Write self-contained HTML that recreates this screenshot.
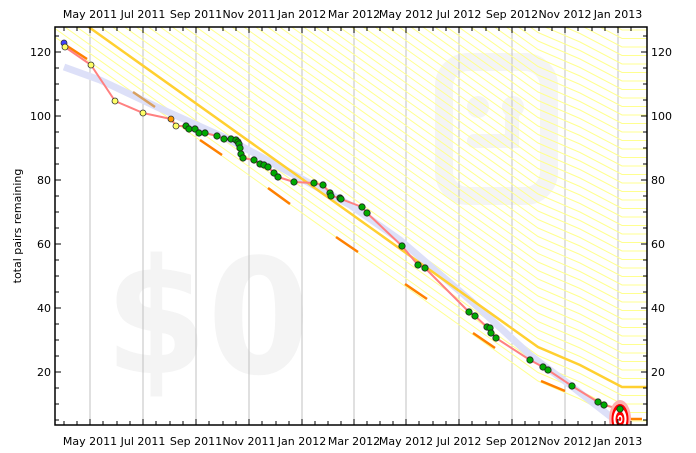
<!DOCTYPE html>
<html><head><meta charset="utf-8"><style>
html,body{margin:0;padding:0;background:#fff;}
svg{display:block;font-family:"DejaVu Sans","Liberation Sans",sans-serif;}
</style></head><body>
<svg width="696" height="453" viewBox="0 0 696 453" xmlns="http://www.w3.org/2000/svg">
<defs>
<clipPath id="pc"><rect x="55" y="27" width="592" height="398"/></clipPath>
<polyline id="lane" points="-100,-107 55,3 538,347 580,365 622,387 700,387" fill="none"/>
</defs>
<rect x="0" y="0" width="696" height="453" fill="#fff"/>
<g clip-path="url(#pc)">
<text x="105" y="373" font-size="160" font-weight="bold" fill="#f4f4f4" textLength="205" lengthAdjust="spacingAndGlyphs" font-family="DejaVu Sans,sans-serif">$0</text>
<rect x="444" y="62" width="105" height="134" rx="24" fill="none" stroke="#f4f4f4" stroke-width="18"/>
<circle cx="478" cy="107" r="11" fill="#f4f4f4"/>
<circle cx="513" cy="107" r="11" fill="#f4f4f4"/>
<path d="M474,141 L512,141 L512,118" fill="none" stroke="#f4f4f4" stroke-width="14" stroke-linecap="round"/>
<g stroke="#c0c0c0" stroke-width="1">
<line x1="90" y1="27" x2="90" y2="425"/><line x1="143" y1="27" x2="143" y2="425"/>
<line x1="196" y1="27" x2="196" y2="425"/><line x1="249" y1="27" x2="249" y2="425"/>
<line x1="302" y1="27" x2="302" y2="425"/><line x1="354" y1="27" x2="354" y2="425"/>
<line x1="406" y1="27" x2="406" y2="425"/><line x1="459" y1="27" x2="459" y2="425"/>
<line x1="512" y1="27" x2="512" y2="425"/><line x1="565" y1="27" x2="565" y2="425"/>
<line x1="618" y1="27" x2="618" y2="425"/>
</g>
<g stroke="#ffff90" stroke-width="1">
<use href="#lane" transform="translate(0,34)"/><use href="#lane" transform="translate(0,25.5)"/>
<use href="#lane" transform="translate(0,17)"/><use href="#lane" transform="translate(0,8.5)"/>
<use href="#lane" transform="translate(0,-8.5)"/><use href="#lane" transform="translate(0,-17)"/>
<use href="#lane" transform="translate(0,-25.5)"/><use href="#lane" transform="translate(0,-34)"/>
<use href="#lane" transform="translate(0,-42.5)"/><use href="#lane" transform="translate(0,-51)"/>
<use href="#lane" transform="translate(0,-59.5)"/><use href="#lane" transform="translate(0,-68)"/>
<use href="#lane" transform="translate(0,-76.5)"/><use href="#lane" transform="translate(0,-85)"/>
<use href="#lane" transform="translate(0,-93.5)"/><use href="#lane" transform="translate(0,-102)"/>
<use href="#lane" transform="translate(0,-110.5)"/><use href="#lane" transform="translate(0,-119)"/>
<use href="#lane" transform="translate(0,-127.5)"/><use href="#lane" transform="translate(0,-136)"/>
<use href="#lane" transform="translate(0,-144.5)"/><use href="#lane" transform="translate(0,-153)"/>
<use href="#lane" transform="translate(0,-161.5)"/><use href="#lane" transform="translate(0,-170)"/>
<use href="#lane" transform="translate(0,-178.5)"/><use href="#lane" transform="translate(0,-187)"/>
<use href="#lane" transform="translate(0,-195.5)"/><use href="#lane" transform="translate(0,-204)"/>
<use href="#lane" transform="translate(0,-212.5)"/><use href="#lane" transform="translate(0,-221)"/>
<use href="#lane" transform="translate(0,-229.5)"/><use href="#lane" transform="translate(0,-238)"/>
<use href="#lane" transform="translate(0,-246.5)"/><use href="#lane" transform="translate(0,-255)"/>
<use href="#lane" transform="translate(0,-263.5)"/><use href="#lane" transform="translate(0,-272)"/>
<use href="#lane" transform="translate(0,-280.5)"/><use href="#lane" transform="translate(0,-289)"/>
<use href="#lane" transform="translate(0,-297.5)"/><use href="#lane" transform="translate(0,-306)"/>
<use href="#lane" transform="translate(0,-314.5)"/><use href="#lane" transform="translate(0,-323)"/>
<use href="#lane" transform="translate(0,-331.5)"/><use href="#lane" transform="translate(0,-340)"/>
<use href="#lane" transform="translate(0,-348.5)"/><use href="#lane" transform="translate(0,-357)"/>
</g>
<polyline points="64,67 100,80 157,107 230,140 300,178 350,205 400,240 470,300 530,355 570,385 615,420" fill="none" stroke="#dde0f8" stroke-width="7" stroke-linejoin="round"/>
<use href="#lane" stroke="#ffd030" stroke-width="2.5"/>
<g stroke="#ff8000" stroke-width="2.5">
<line x1="64" y1="44" x2="87" y2="59"/>
<line x1="133" y1="92" x2="155" y2="107" stroke="#d8a060"/>
<line x1="200" y1="140" x2="222" y2="155"/>
<line x1="268" y1="188" x2="290" y2="204"/>
<line x1="336" y1="237" x2="358" y2="252"/>
<line x1="405" y1="284" x2="427" y2="299"/>
<line x1="473" y1="333" x2="495" y2="348"/>
<line x1="541" y1="381" x2="565" y2="391"/>
<line x1="628" y1="419" x2="642" y2="419"/>
</g>
<polyline points="64,43 65,47 91,65 115,101 143,113 171,119 176,126 186,126 189,129 195,129 199,133 205,133 217,136 224,139 231,139 236,140 238,142 239,144 240,148 241,154 243,158 254,160 260,164 264,165 268,167 274,173 278,177 294,182 314,183 323,185 330,193 331,196 340,198 341,199 362,207 367,213 402,246 418,265 425,268 469,312 475,316 487,327 490,328 491,333 496,338 530,360 543,367 548,370 572,386 598,402 604,405 620,409" fill="none" stroke="#ff8080" stroke-width="2" stroke-linejoin="round"/>
<ellipse cx="620" cy="419" rx="11" ry="19" fill="#ffb0b0"/>
<ellipse cx="620" cy="419" rx="8.5" ry="15" fill="#ff0000"/>
<ellipse cx="620" cy="419" rx="6.5" ry="11" fill="#fff"/>
<ellipse cx="620" cy="419" rx="4.5" ry="7.5" fill="#ff0000"/>
<ellipse cx="620" cy="419" rx="2.5" ry="4" fill="#fff"/>
<ellipse cx="620" cy="419" rx="1.2" ry="2" fill="#ff0000"/>
<g stroke="#333" stroke-width="0.8">
<circle cx="64" cy="43" r="3" fill="#4040ff"/>
<circle cx="65" cy="47" r="3" fill="#ffff66"/>
<circle cx="91" cy="65" r="3" fill="#ffff66"/>
<circle cx="115" cy="101" r="3" fill="#ffff66"/>
<circle cx="143" cy="113" r="3" fill="#ffff66"/>
<circle cx="171" cy="119" r="3" fill="#ff9900"/>
<circle cx="176" cy="126" r="3" fill="#ffff66"/>
</g>
<g stroke="#222" stroke-width="0.8" fill="#00aa00">
<circle cx="186" cy="126" r="3.2"/><circle cx="189" cy="129" r="3.2"/><circle cx="195" cy="129" r="3.2"/>
<circle cx="199" cy="133" r="3.2"/><circle cx="205" cy="133" r="3.2"/><circle cx="217" cy="136" r="3.2"/>
<circle cx="224" cy="139" r="3.2"/><circle cx="231" cy="139" r="3.2"/><circle cx="236" cy="140" r="3.2"/>
<circle cx="238" cy="142" r="3.2"/><circle cx="239" cy="144" r="3.2"/><circle cx="240" cy="148" r="3.2"/>
<circle cx="241" cy="154" r="3.2"/><circle cx="243" cy="158" r="3.2"/><circle cx="254" cy="160" r="3.2"/>
<circle cx="260" cy="164" r="3.2"/><circle cx="264" cy="165" r="3.2"/><circle cx="268" cy="167" r="3.2"/>
<circle cx="274" cy="173" r="3.2"/><circle cx="278" cy="177" r="3.2"/><circle cx="294" cy="182" r="3.2"/>
<circle cx="314" cy="183" r="3.2"/><circle cx="323" cy="185" r="3.2"/><circle cx="330" cy="193" r="3.2"/>
<circle cx="331" cy="196" r="3.2"/><circle cx="340" cy="198" r="3.2"/><circle cx="341" cy="199" r="3.2"/>
<circle cx="362" cy="207" r="3.2"/><circle cx="367" cy="213" r="3.2"/><circle cx="402" cy="246" r="3.2"/>
<circle cx="418" cy="265" r="3.2"/><circle cx="425" cy="268" r="3.2"/><circle cx="469" cy="312" r="3.2"/>
<circle cx="475" cy="316" r="3.2"/><circle cx="487" cy="327" r="3.2"/><circle cx="490" cy="328" r="3.2"/>
<circle cx="491" cy="333" r="3.2"/><circle cx="496" cy="338" r="3.2"/><circle cx="530" cy="360" r="3.2"/>
<circle cx="543" cy="367" r="3.2"/><circle cx="548" cy="370" r="3.2"/><circle cx="572" cy="386" r="3.2"/>
<circle cx="598" cy="402" r="3.2"/><circle cx="604" cy="405" r="3.2"/><circle cx="620" cy="409" r="3.2"/>
</g>
</g>
<rect x="55" y="27" width="592" height="398" fill="none" stroke="#000" stroke-width="1.5"/>
<g stroke="#000" stroke-width="1">
<path d="M64,425v-4M77,425v-4M90,425v-6M103,425v-4M117,425v-4M130,425v-4M143,425v-6M156,425v-4M170,425v-4M183,425v-4M196,425v-6M209,425v-4M223,425v-4M236,425v-4M249,425v-6M262,425v-4M276,425v-4M289,425v-4M302,425v-6M315,425v-4M328,425v-4M341,425v-4M354,425v-6M367,425v-4M380,425v-4M393,425v-4M406,425v-6M419,425v-4M433,425v-4M446,425v-4M459,425v-6M472,425v-4M486,425v-4M499,425v-4M512,425v-6M525,425v-4M539,425v-4M552,425v-4M565,425v-6M578,425v-4M592,425v-4M605,425v-4M618,425v-6M631,425v-4"/>
<path d="M64,27v4M77,27v4M90,27v6M103,27v4M117,27v4M130,27v4M143,27v6M156,27v4M170,27v4M183,27v4M196,27v6M209,27v4M223,27v4M236,27v4M249,27v6M262,27v4M276,27v4M289,27v4M302,27v6M315,27v4M328,27v4M341,27v4M354,27v6M367,27v4M380,27v4M393,27v4M406,27v6M419,27v4M433,27v4M446,27v4M459,27v6M472,27v4M486,27v4M499,27v4M512,27v6M525,27v4M539,27v4M552,27v4M565,27v6M578,27v4M592,27v4M605,27v4M618,27v6M631,27v4"/>
<path d="M55,52h6M55,116h6M55,180h6M55,244h6M55,308h6M55,372h6M55,36h4M55,68h4M55,84h4M55,100h4M55,132h4M55,148h4M55,164h4M55,196h4M55,212h4M55,228h4M55,260h4M55,276h4M55,292h4M55,324h4M55,340h4M55,356h4M55,388h4M55,404h4M55,420h4"/>
<path d="M647,52h-6M647,116h-6M647,180h-6M647,244h-6M647,308h-6M647,372h-6M647,36h-4M647,68h-4M647,84h-4M647,100h-4M647,132h-4M647,148h-4M647,164h-4M647,196h-4M647,212h-4M647,228h-4M647,260h-4M647,276h-4M647,292h-4M647,324h-4M647,340h-4M647,356h-4M647,388h-4M647,404h-4M647,420h-4"/>
</g>
<g font-size="11" fill="#000">
<g text-anchor="end">
<text x="51" y="56">120</text><text x="51" y="120">100</text><text x="51" y="184">80</text>
<text x="51" y="248">60</text><text x="51" y="312">40</text><text x="51" y="376">20</text>
</g>
<g text-anchor="start">
<text x="651" y="56">120</text><text x="651" y="120">100</text><text x="651" y="184">80</text>
<text x="651" y="248">60</text><text x="651" y="312">40</text><text x="651" y="376">20</text>
</g>
<g text-anchor="middle">
<text x="90" y="18">May 2011</text><text x="143" y="18">Jul 2011</text><text x="196" y="18">Sep 2011</text>
<text x="249" y="18">Nov 2011</text><text x="302" y="18">Jan 2012</text><text x="354" y="18">Mar 2012</text>
<text x="406" y="18">May 2012</text><text x="459" y="18">Jul 2012</text><text x="512" y="18">Sep 2012</text>
<text x="565" y="18">Nov 2012</text><text x="618" y="18">Jan 2013</text>
<text x="90" y="445">May 2011</text><text x="143" y="445">Jul 2011</text><text x="196" y="445">Sep 2011</text>
<text x="249" y="445">Nov 2011</text><text x="302" y="445">Jan 2012</text><text x="354" y="445">Mar 2012</text>
<text x="406" y="445">May 2012</text><text x="459" y="445">Jul 2012</text><text x="512" y="445">Sep 2012</text>
<text x="565" y="445">Nov 2012</text><text x="618" y="445">Jan 2013</text>
<text transform="translate(21,226) rotate(-90)">total pairs remaining</text>
</g>
</g>
</svg>
</body></html>
